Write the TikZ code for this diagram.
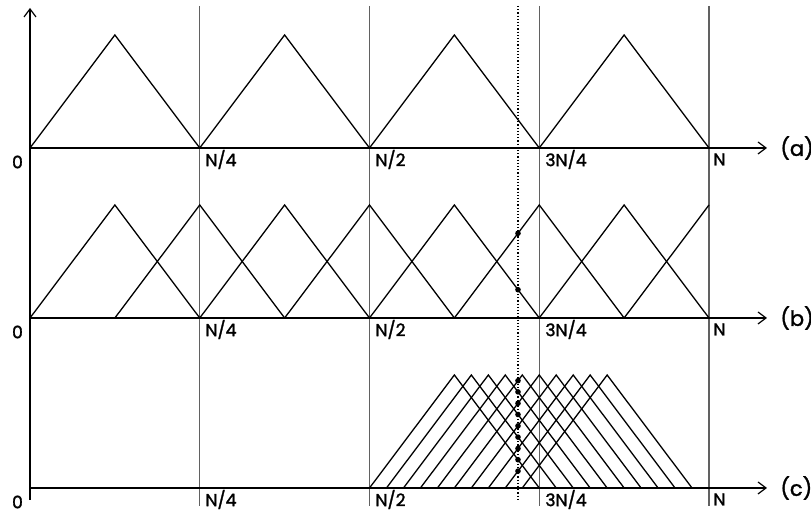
\documentclass[tikz,border=0pt]{standalone}
\usepackage{fontspec}
\setmainfont{Poppins}[FakeBold=1.6]
\usetikzlibrary{arrows.meta}

\begin{document}
\begin{tikzpicture}[
    x=0.5pt, y=-0.5pt,
    axis/.style={line width=0.6pt, -{Straight Barb[length=4pt, width=6pt]}},
    divider/.style={line width=0.65pt, black!62},
    tri/.style={line width=0.65pt},
    probe/.style={densely dotted, line width=0.6pt},
    dot/.style={circle, fill, inner sep=0pt, minimum size=2.8pt},
    tick/.style={font=\fontsize{8.6}{9}\selectfont, anchor=west, inner sep=0pt},
    rowlabel/.style={font=\fontsize{10.5}{11}\selectfont, anchor=west, inner sep=0pt}
  ]
  \useasboundingbox (0,0) rectangle (811,512);

  % dividers at N/4, N/2, 3N/4, N
  \foreach \k in {1,...,4} {
    \draw[divider] ({30+\k*169.75},6) -- ({30+\k*169.75},506);
  }
  \draw[probe] (518,6) -- (518,500);

  % axes and labels
  \draw[axis] (30,500) -- (30,8);
  \foreach \r/\y in {a/148, b/318, c/488} {
    \draw[axis] (30,\y) -- (767,\y);
    \node[tick, anchor=center] (zero-\r) at (17.5,{\y+14}) {0};
    \node[tick] (q1-\r) at (205,{\y+11.5}) {N/4};
    \node[tick] (q2-\r) at (375,{\y+11.5}) {N/2};
    \node[tick] (q3-\r) at (545,{\y+11.5}) {3N/4};
    \node[tick] (q4-\r) at (713,{\y+11.5}) {N};
    \node[rowlabel] (lbl-\r) at (780,\y) {(\r)};
  }

  % (a) four disjoint windows
  \foreach \k in {0,...,3} {
    \draw[tri] ({30+\k*169.75},148) -- ++(84.875,-113) -- ++(84.875,113);
  }

  % (b) half-overlapping windows
  \foreach \k in {0,...,6} {
    \draw[tri] ({30+\k*84.875},318) -- ++(84.875,-113) -- ++(84.875,113);
  }
  \draw[tri] (624.125,318) -- (709,205);
  \foreach \p in {454.375, 539.25} {
    \node[dot] at (518,{318-(84.875-abs(518-\p))*113/84.875}) {};
  }

  % (c) densely overlapping windows
  \foreach \k in {0,...,9} {
    \draw[tri] ({369.5+\k*16.975},488) -- ++(84.875,-113) -- ++(84.875,113);
  }
  \foreach \k in {0,...,8} {
    \node[dot] at (518,{488-(84.875-abs(518-454.375-\k*16.975))*113/84.875}) {};
  }

\end{tikzpicture}
\end{document}
